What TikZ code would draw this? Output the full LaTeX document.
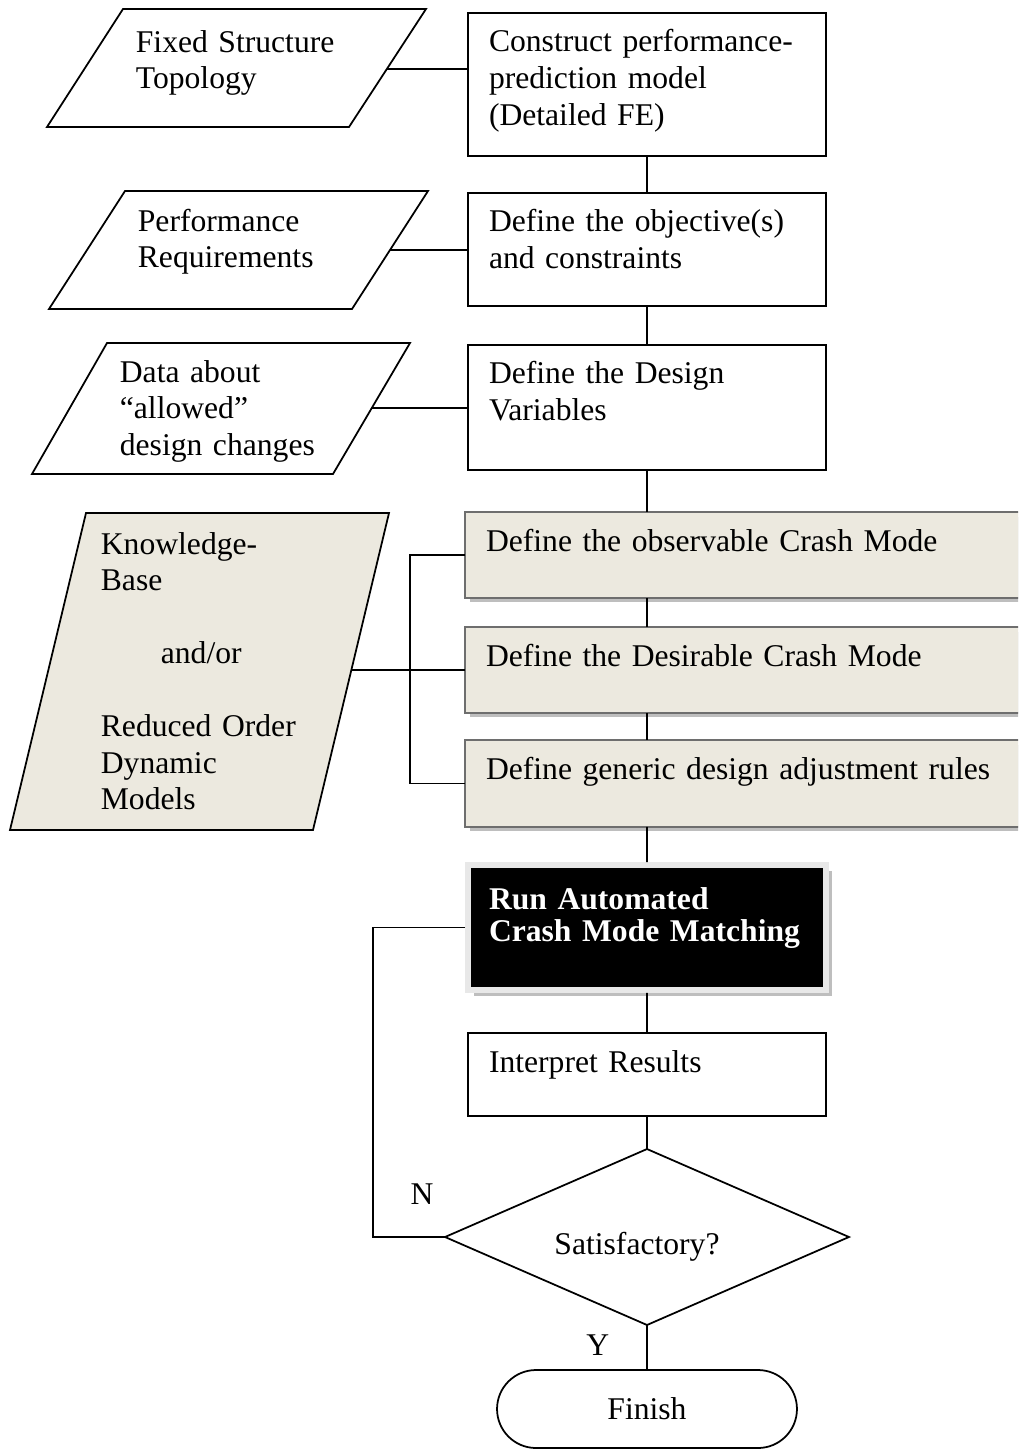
\documentclass[tikz,border=0pt]{standalone}
\usepackage{fontspec}
\setmainfont{Liberation Serif}
\usetikzlibrary{positioning,shapes.geometric,shapes.misc,shadows}

\definecolor{modefill}{RGB}{236,233,223}
\definecolor{modeline}{RGB}{110,110,110}
\definecolor{modeshadow}{RGB}{190,190,190}
\definecolor{runframe}{RGB}{232,232,232}

\tikzset{
  stepbox/.style={draw, rectangle, line width=1pt, anchor=north west, outer sep=0pt,
    text width=6.32cm, align=left, inner xsep=0.42cm, inner ysep=0.34cm, text height=0.44cm},
  modebox/.style={stepbox, fill=modefill, draw=modeline, line width=1.2pt, text width=10.4cm,
    drop shadow={shadow xshift=0.09cm, shadow yshift=-0.09cm, fill=modeshadow, opacity=1}},
  runbox/.style={stepbox, fill=black, draw=runframe, line width=0.12cm, outer sep=0.06cm,
    text=white, text height=0.54cm, font=\fontsize{18}{18.7}\selectfont\bfseries,
    drop shadow={shadow xshift=0.12cm, shadow yshift=-0.12cm, fill=modeshadow, opacity=1}},
  inputtext/.style={anchor=base west, inner sep=0pt, text width=6cm, align=left},
  decision/.style={draw, diamond, aspect=2.3, line width=1pt, minimum width=8.08cm,
    minimum height=3.52cm, inner sep=0pt, outer sep=0pt},
  terminal/.style={draw, rounded rectangle, line width=1pt, minimum width=6cm,
    minimum height=1.56cm, inner sep=0pt, outer sep=0pt},
  yesno/.style={inner sep=0pt}
}

\begin{document}
\begin{tikzpicture}[x=0.02cm, y=-0.02cm, line width=1pt,
  every node/.append style={font=\fontsize{18}{20.8}\selectfont}]
\useasboundingbox (0,0) rectangle (1018,1450);
\clip (0,0) rectangle (1018,1450);

%Inputs
\draw (123,9) -- (426,9) -- (349,127) -- (47,127) -- cycle;
\draw (125,191) -- (428,191) -- (352,309) -- (49,309) -- cycle;
\draw (107,343) -- (410,343) -- (333,474) -- (32,474) -- cycle;
\draw[fill=modefill] (86,513) -- (389,513) -- (313,830) -- (10,830) -- cycle;

\node[inputtext] (fixedin) at (135,52) {Fixed Structure\\Topology};
\node[inputtext] (perfin)  at (137,231) {Performance\\Requirements};
\node[inputtext] (datain)  at (119,382) {Data about\\“allowed”\\design changes};
\node[inputtext] (kbin)    at (100,554) {Knowledge-\\Base\\[20.8pt]\hspace*{1.2cm}and/or\\[20.8pt]Reduced Order\\Dynamic\\Models};

%Nodes
\node[stepbox, text depth=1.74cm] (build)  at (468,13)   {Construct performance-\\prediction model\\(Detailed FE)};
\node[stepbox, text depth=1.14cm] (obj)    at (468,193)  {Define the objective(s)\\and constraints};
\node[stepbox, text depth=1.38cm] (vars)   at (468,345)  {Define the Design\\Variables};
\node[modebox, text depth=0.6cm]  (obs)    at (465,512)  {Define the observable Crash Mode};
\node[modebox, text depth=0.6cm]  (des)    at (465,627)  {Define the Desirable Crash Mode};
\node[modebox, text depth=0.62cm] (rules)  at (465,740)  {Define generic design adjustment rules};
\node[runbox, text depth=1.28cm]  (run)    at (465,862)  {Run Automated\\Crash Mode Matching};
\node[stepbox, text depth=0.54cm] (interp) at (468,1033) {Interpret Results};
\node[decision]                   (sat)    at (647,1237) {\raisebox{-0.35cm}[0pt][0pt]{Satisfactory?}\hspace*{0.4cm}};
\node[terminal]                   (fin)    at (647,1409) {Finish};

\coordinate (fixedR) at (387,69);
\coordinate (perfR)  at (390,250);
\coordinate (dataR)  at (372,408);
\coordinate (kbR)    at (351,670);
\coordinate (bus)    at (410,670);
\coordinate (nloop)  at (373,1237);

%Lines
\draw (build.south) -- (obj.north);
\draw (obj.south) -- (vars.north);
\draw (vars.south) -- (vars.south |- obs.north);
\draw (vars.south |- obs.south) -- (vars.south |- des.north);
\draw (vars.south |- des.south) -- (vars.south |- rules.north);
\draw (vars.south |- rules.south) -- (run.north);
\draw (run.south) -- (interp.north);
\draw (interp.south) -- (sat.north);
\draw (sat.south) -- (fin.north)
    node[yesno, pos=0.45, left=0.74cm]{Y};

\draw (fixedR) -- (fixedR -| build.west);
\draw (perfR) -- (perfR -| obj.west);
\draw (dataR) -- (dataR -| vars.west);
\draw (kbR) -- (kbR -| des.west);
\draw (obs.west) -| (bus) |- (rules.west);
\draw (run.west) -| (nloop) -- (sat.west)
    node[yesno, pos=0.68, above=0.64cm]{N};
\end{tikzpicture}
\end{document}
